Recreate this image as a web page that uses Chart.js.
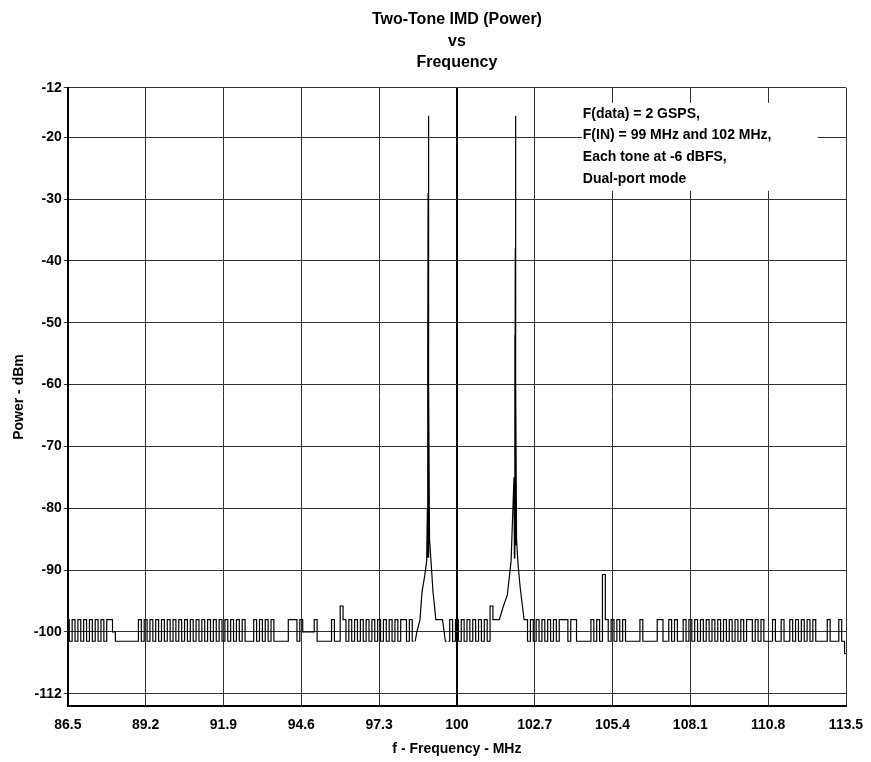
<!DOCTYPE html>
<html>
<head>
<meta charset="utf-8">
<script src="https://cdn.jsdelivr.net/npm/chart.js@4.4.1/dist/chart.umd.min.js"></script>
<style>
  html, body { margin: 0; padding: 0; background: #fff; }
  #wrap { width: 871px; height: 762px; }
</style>
</head>
<body>
<div id="wrap"><canvas id="imdChart" width="871" height="762"></canvas></div>
<script>
// ---------- data ----------
const xTicks = [86.5, 89.2, 91.9, 94.6, 97.3, 100, 102.7, 105.4, 108.1, 110.8, 113.5];
const xTickLabels = ['86.5', '89.2', '91.9', '94.6', '97.3', '100', '102.7', '105.4', '108.1', '110.8', '113.5'];
const yTicks = [-12, -20, -30, -40, -50, -60, -70, -80, -90, -100, -110];
const yTickLabels = ['-12', '-20', '-30', '-40', '-50', '-60', '-70', '-80', '-90', '-100', '-112'];

// noise floor, one sample every 0.1 MHz from 86.5 MHz (null = tone skirt, see below)
const noiseStart = 86.5;
const noiseStep = 0.1;
const noisePower = [
  -98, -101.5, -98, -101.5, -98, -101.5, -98, -101.5, -98, -101.5,
  -98, -101.5, -98, -101.5, -98, -98, -100, -101.5, -101.5, -101.5,
  -101.5, -101.5, -101.5, -101.5, -101.5, -98, -101.5, -98, -101.5, -98,
  -101.5, -98, -101.5, -98, -101.5, -98, -101.5, -98, -101.5, -98,
  -101.5, -98, -101.5, -98, -101.5, -98, -101.5, -98, -101.5, -98,
  -101.5, -98, -101.5, -98, -101.5, -98, -101.5, -98, -101.5, -98,
  -101.5, -98, -101.5, -101.5, -101.5, -98, -101.5, -98, -101.5, -98,
  -101.5, -98, -101.5, -101.5, -101.5, -101.5, -101.5, -98, -98, -98,
  -101.5, -98, -100, -100, -100, -100, -98, -101.5, -101.5, -101.5,
  -101.5, -101.5, -98, -101.5, -101.5, -95.8, -98, -101.5, -98, -101.5,
  -98, -101.5, -98, -101.5, -98, -101.5, -98, -101.5, -98, -101.5,
  -98, -101.5, -98, -101.5, -98, -101.5, -98, -98, -101.5, -98,
  -101.5, null, null, null, null, null, null, null, null, null,
  null, null, -101.5, -98, -101.5, -98, -101.5, -98, -101.5, -98,
  -101.5, -98, -101.5, -98, -101.5, -98, -101.5, -95.8, -98, -98,
  null, null, null, null, null, null, null, null, null, -98,
  -101.5, -98, -101.5, -98, -101.5, -98, -101.5, -98, -101.5, -98,
  -101.5, -98, -98, -98, -101.5, -98, -98, -101.5, -101.5, -101.5,
  -101.5, -101.5, -98, -101.5, -98, -101.5, -90.7, -98, -101.5, -98,
  -101.5, -98, -101.5, -98, -101.5, -101.5, -101.5, -101.5, -101.5, -98,
  -101.5, -101.5, -101.5, -101.5, -101.5, -98, -98, -101.5, -101.5, -98,
  -101.5, -98, -101.5, -101.5, -98, -101.5, -98, -101.5, -98, -101.5,
  -98, -101.5, -98, -101.5, -98, -101.5, -98, -101.5, -98, -101.5,
  -98, -101.5, -98, -101.5, -98, -101.5, -98, -98, -101.5, -98,
  -101.5, -98, -101.5, -101.5, -101.5, -98, -101.5, -101.5, -98, -101.5,
  -101.5, -98, -101.5, -98, -101.5, -98, -101.5, -98, -101.5, -98,
  -101.5, -101.5, -101.5, -101.5, -98, -101.5, -101.5, -101.5, -98, -101.5,
  -103.5
];

// the two tones (99 MHz and 102 MHz) with their skirts
const tone1Freq = [98.55, 98.61, 98.72, 98.79, 98.88, 98.95, 98.975, 98.985, 98.99, 99.0, 99.005, 99.01, 99.015, 99.02, 99.025, 99.03, 99.05, 99.1, 99.17, 99.27, 99.5, 99.6, 99.65];
const tone1Power = [-101.5, -100, -98, -93.5, -91, -88.5, -80, -88, -55, -29, -60, -16.5, -88, -40, -85, -60, -85, -88.5, -93.5, -98, -98, -101.5, -101.5];
const tone2Freq = [101.4, 101.47, 101.6, 101.75, 101.88, 101.98, 101.995, 102.005, 102.015, 102.025, 102.03, 102.035, 102.04, 102.05, 102.07, 102.12, 102.2, 102.33, 102.4];
const tone2Power = [-98, -98, -96, -94, -88.5, -75, -88, -52, -85, -38, -16.5, -86, -40, -60, -85, -89, -93, -98, -98];

const annotationLines = [
  'F(data) = 2 GSPS,',
  'F(IN) = 99 MHz and 102 MHz,',
  'Each tone at -6 dBFS,',
  'Dual-port mode'
];

// ---------- build the traces ----------
const noiseData = noisePower.map((p, i) => ({ x: +(noiseStart + i * noiseStep).toFixed(2), y: p }));
const tone1Data = tone1Freq.map((f, i) => ({ x: f, y: tone1Power[i] }));
const tone2Data = tone2Freq.map((f, i) => ({ x: f, y: tone2Power[i] }));

const FONT = '"Liberation Sans", Arial, sans-serif';

// white box + text in the upper right of the plot
const notePlugin = {
  id: 'notePlugin',
  beforeDatasetsDraw(chart) {
    const ctx = chart.ctx;
    const area = chart.chartArea;
    const left = area.left + 514;
    const top = area.top + 15;
    ctx.save();
    ctx.fillStyle = '#fff';
    ctx.fillRect(left, top, 236, 88);
    ctx.fillStyle = '#000';
    ctx.font = 'bold 14px ' + FONT;
    ctx.textBaseline = 'middle';
    annotationLines.forEach((line, i) => {
      ctx.fillText(line, left + 1, top + 11 + i * 21.7);
    });
    ctx.restore();
  }
};

const lineStyle = {
  borderColor: '#000',
  borderWidth: 1.2,
  pointRadius: 0,
  tension: 0,
  fill: false,
  spanGaps: false
};

const chart = new Chart(document.getElementById('imdChart'), {
  type: 'line',
  data: {
    datasets: [
      Object.assign({ data: noiseData, stepped: 'middle' }, lineStyle),
      Object.assign({ data: tone1Data }, lineStyle),
      Object.assign({ data: tone2Data }, lineStyle)
    ]
  },
  options: {
    responsive: false,
    animation: false,
    layout: { padding: { left: 11, right: 25, top: 0, bottom: 0 } },
    plugins: {
      legend: { display: false },
      tooltip: { enabled: false },
      title: {
        display: true,
        fullSize: false,
        text: ['Two-Tone IMD (Power)', 'vs', 'Frequency'],
        color: '#000',
        font: { family: FONT, size: 16, weight: 'bold', lineHeight: 1.35 },
        padding: { top: 9, bottom: 14 }
      }
    },
    scales: {
      x: {
        type: 'linear',
        min: 86.5,
        max: 113.5,
        afterBuildTicks: s => { s.ticks = xTicks.map(v => ({ value: v })); },
        afterFit: s => { s.paddingRight = 0; s.paddingLeft = 0; },
        ticks: {
          autoSkip: false,
          maxRotation: 0,
          color: '#000',
          padding: 11,
          font: { family: FONT, size: 14, weight: 'bold' },
          callback: (v, i) => xTickLabels[i]
        },
        grid: {
          color: c => (c.tick && c.tick.value === 100 ? '#000' : '#333'),
          lineWidth: c => (c.tick && c.tick.value === 100 ? 2 : 1),
          drawTicks: false
        },
        border: { color: '#000', width: 2 },
        title: {
          display: true,
          text: 'f - Frequency - MHz',
          color: '#000',
          font: { family: FONT, size: 14, weight: 'bold', lineHeight: 1.0 },
          padding: { top: -3, bottom: 6 }
        }
      },
      y: {
        type: 'linear',
        min: -112,
        max: -12,
        afterBuildTicks: s => { s.ticks = yTicks.map(v => ({ value: v })); },
        ticks: {
          autoSkip: false,
          color: '#000',
          padding: 2,
          font: { family: FONT, size: 14, weight: 'bold' },
          callback: (v, i) => yTickLabels[i]
        },
        grid: {
          color: '#333',
          lineWidth: 1,
          tickLength: 4
        },
        border: { color: '#000', width: 2 },
        title: {
          display: true,
          text: 'Power - dBm',
          color: '#000',
          font: { family: FONT, size: 14, weight: 'bold' },
          padding: { top: 0, bottom: 4 }
        }
      }
    }
  },
  plugins: [notePlugin]
});
</script>
</body>
</html>
